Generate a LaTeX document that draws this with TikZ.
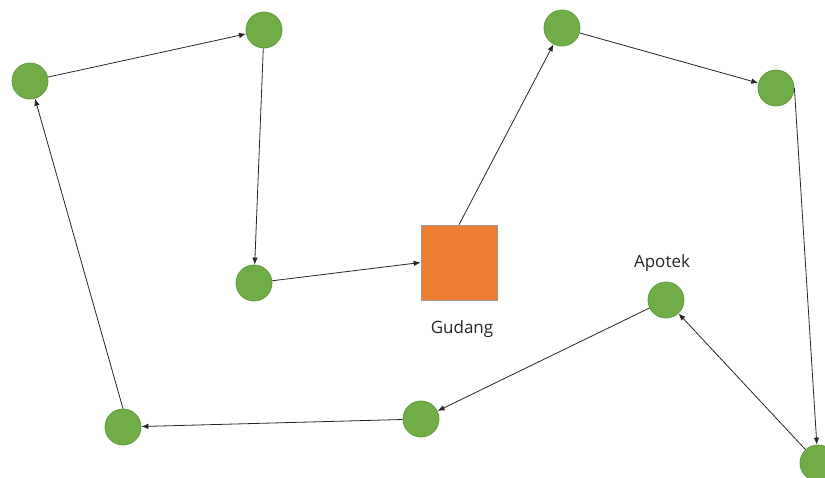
\documentclass[tikz,border=0pt]{standalone}
\usepackage{fontspec}
\setmainfont{Open Sans}
\usetikzlibrary{arrows.meta}
\definecolor{stopgreen}{HTML}{70AD47}
\definecolor{stopedge}{HTML}{5F9A3C}
\definecolor{depotorange}{HTML}{ED7D31}
\definecolor{labelgray}{HTML}{262626}
\begin{document}
\begin{tikzpicture}[x=1pt, y=-1pt,
		stop/.style={circle, fill=stopgreen, draw=stopedge, line width=0.8pt, minimum size=36pt, inner sep=0pt},
		depot/.style={rectangle, fill=depotorange, draw=gray!80, line width=0.6pt, minimum width=76pt, minimum height=75pt, inner sep=0pt},
		route/.style={-{Latex[length=7pt,width=5.5pt]}, line width=0.8pt, black!85},
		lbl/.style={text=labelgray, font=\fontsize{17}{20}\selectfont}]
				\useasboundingbox (0, 0) rectangle (825, 477);
				\node[stop] (a) at (30, 81) {};
				\node[stop] (b) at (264, 30) {};
				\node[stop] (c) at (254, 283) {};
				\node[depot] (gudang) at (459, 262.5) {};
				\node[stop] (e) at (562, 28) {};
				\node[stop] (f) at (776, 88) {};
				\node[stop] (g) at (818, 463) {};
				\node[stop] (apotek) at (666, 300) {};
				\node[stop] (i) at (421, 419) {};
				\node[stop] (j) at (123, 427) {};
				\node[lbl] (apoteklbl) at (662, 263) {Apotek};
				\node[lbl] (gudanglbl) at (462, 329) {Gudang};
				\draw[route] (a) -- (b);
				\draw[route] (b) -- (c);
				\draw[route] (c) -- (gudang.west);
				\draw[route] (gudang.north) -- (e);
				\draw[route] (e) -- (f);
				\draw[route] (f.east) -- (g);
				\draw[route] (g) -- (apotek);
				\draw[route] (apotek) -- (i);
				\draw[route] (i) -- (j);
				\draw[route] (j.north) -- (a);
\end{tikzpicture}
\end{document}
